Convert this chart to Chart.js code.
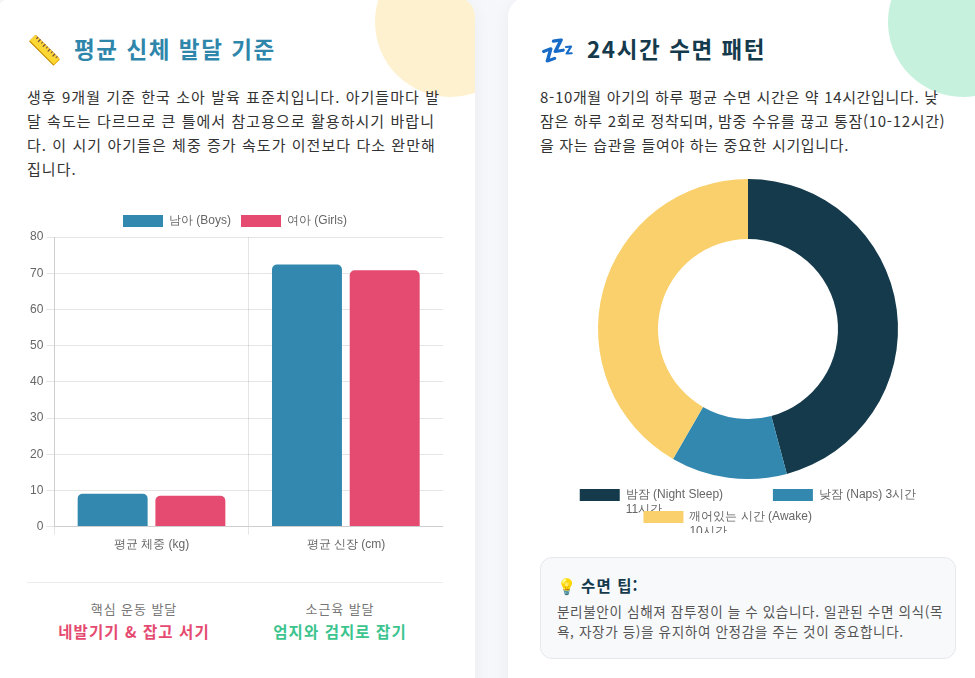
<!DOCTYPE html>
<html lang="ko">
<head>
<meta charset="UTF-8">
<title>아기 발달 리포트</title>
<script src="https://cdn.jsdelivr.net/npm/chart.js@4.4.1/dist/chart.umd.min.js"></script>
<style>
  html, body { margin: 0; padding: 0; }
  body {
    width: 975px; height: 678px; overflow: hidden; position: relative;
    background: #f5f7fa;
    font-family: 'Noto Sans CJK KR', 'Noto Sans KR', sans-serif;
    color: #333;
  }
  .grid {
    position: absolute; left: -5px; top: -3px;
    display: grid; grid-template-columns: 480px 480px; column-gap: 33px;
  }
  .card {
    position: relative; overflow: hidden;
    background: #fff; border-radius: 20px;
    padding: 32px; box-sizing: border-box; height: 740px;
    box-shadow: 0 4px 18px rgba(0,0,0,0.05);
  }
  .card::before {
    content: ''; position: absolute; top: -50px; right: -50px;
    width: 150px; height: 150px; border-radius: 50%;
  }
  .card.growth::before { background: #fef1cf; }
  .card.sleep::before { background: #c6f1dd; }
  .card > * { position: relative; }
  h2, p, .stat div, .tip h4 { letter-spacing: 0.07em; }
  h2 {
    margin: 0; font-size: 22.5px; font-weight: 700; line-height: 38px;
    display: flex; align-items: center; gap: 12px;
  }
  .growth h2 { color: #2e86ab; }
  .sleep h2 { color: #143a4c; }
  .icon { font-size: 28px; line-height: 1; letter-spacing: 0; }
  p.desc {
    margin: 18px 0 0; font-size: 15px; line-height: 24px; color: #333;
  }
  .sleep p.desc { letter-spacing: 0.045em; margin-right: 3px; }
  .chart-box { margin-top: 24px; height: 350px; position: relative; }
  .sleep .chart-box { margin-top: 22px; height: 354px; }
  .stats {
    margin-top: 27px; border-top: 1px solid #ececf0; padding-top: 16px;
    display: flex; padding-left: 4px;
  }
  .stat { flex: 1; text-align: center; }
  .stat .label { font-size: 13px; line-height: 20px; color: #777; }
  .stat .value { font-size: 15.5px; line-height: 24px; font-weight: 700; }
  .tip {
    margin-top: 24px; background: #f8f9fb; border: 1px solid #e6e8ec;
    border-radius: 12px; padding: 15px 2px 17px 16px;
  }
  .tip h4 {
    margin: 0 0 4px; font-size: 15.5px; line-height: 24px; color: #143a4c; font-weight: 700;
    display: flex; align-items: center; gap: 4px;
  }
  .tip p { margin: 0; font-size: 13.6px; line-height: 20px; color: #555; letter-spacing: 0.045em; }
</style>
</head>
<body>
<div class="grid">
  <div class="card growth">
    <h2><span class="icon">📏</span>평균 신체 발달 기준</h2>
    <p class="desc">생후 9개월 기준 한국 소아 발육 표준치입니다. 아기들마다 발달 속도는 다르므로 큰 틀에서 참고용으로 활용하시기 바랍니다. 이 시기 아기들은 체중 증가 속도가 이전보다 다소 완만해집니다.</p>
    <div class="chart-box"><canvas id="growthChart"></canvas></div>
    <div class="stats">
      <div class="stat"><div class="label">핵심 운동 발달</div><div class="value" style="color:#e54a70">네발기기 &amp; 잡고 서기</div></div>
      <div class="stat"><div class="label">소근육 발달</div><div class="value" style="color:#3cc48e">엄지와 검지로 잡기</div></div>
    </div>
  </div>
  <div class="card sleep">
    <h2><span class="icon">💤</span>24시간 수면 패턴</h2>
    <p class="desc">8-10개월 아기의 하루 평균 수면 시간은 약 14시간입니다. 낮잠은 하루 2회로 정착되며, 밤중 수유를 끊고 통잠(10-12시간)을 자는 습관을 들여야 하는 중요한 시기입니다.</p>
    <div class="chart-box"><canvas id="sleepChart"></canvas></div>
    <div class="tip">
      <h4><span>💡</span>수면 팁:</h4>
      <p>분리불안이 심해져 잠투정이 늘 수 있습니다. 일관된 수면 의식(목욕, 자장가 등)을 유지하여 안정감을 주는 것이 중요합니다.</p>
    </div>
  </div>
</div>

<script>
// 9개월 발육 표준 (체중 kg / 신장 cm)
const growthLabels = ['평균 체중 (kg)', '평균 신장 (cm)'];
const boysValues = [9.1, 72.4];
const girlsValues = [8.5, 70.8];

// 24시간 수면 패턴 (시간)
const sleepLabels = [['밤잠 (Night Sleep)', '11시간'], '낮잠 (Naps) 3시간', ['깨어있는 시간 (Awake)', '10시간']];
const sleepHours = [11, 3, 10];

Chart.defaults.animation = false;

new Chart(document.getElementById('growthChart').getContext('2d'), {
  type: 'bar',
  data: {
    labels: growthLabels,
    datasets: [
      { label: '남아 (Boys)', data: boysValues, backgroundColor: '#3388b0', borderRadius: 5 },
      { label: '여아 (Girls)', data: girlsValues, backgroundColor: '#e54a70', borderRadius: 5 }
    ]
  },
  options: {
    responsive: true,
    maintainAspectRatio: false,
    plugins: { legend: { position: 'top' } },
    scales: { y: { beginAtZero: true } }
  }
});

new Chart(document.getElementById('sleepChart').getContext('2d'), {
  type: 'doughnut',
  data: {
    labels: sleepLabels,
    datasets: [{
      data: sleepHours,
      backgroundColor: ['#143a4c', '#3388b0', '#f9d06b'],
      borderWidth: 0
    }]
  },
  options: {
    responsive: true,
    maintainAspectRatio: false,
    cutout: '60%',
    plugins: { legend: { position: 'bottom' } }
  }
});
</script>
</body>
</html>
